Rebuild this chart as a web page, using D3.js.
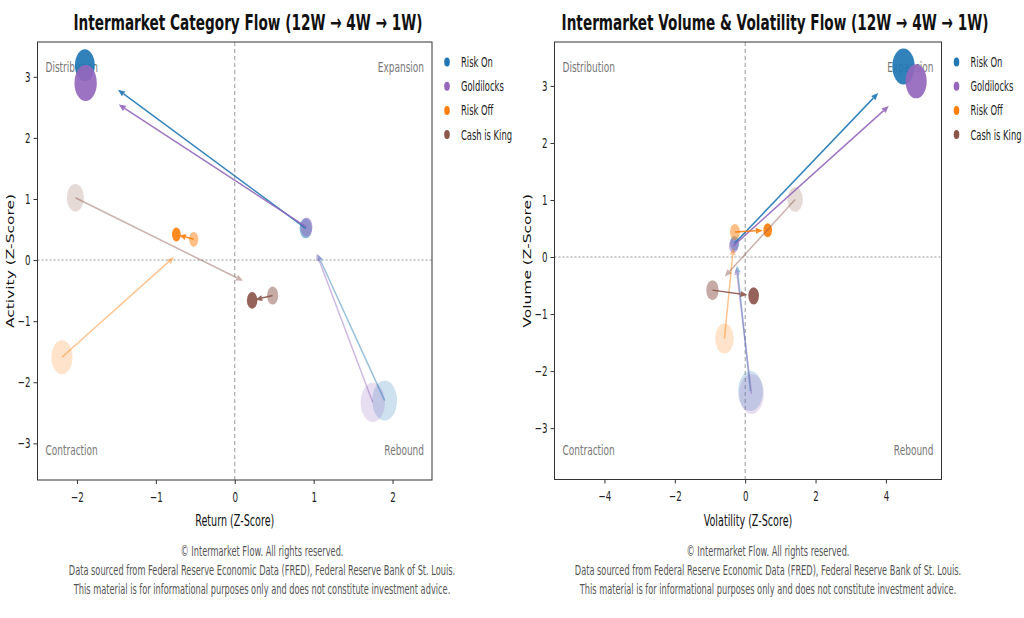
<!DOCTYPE html>
<html>
<head>
<meta charset="utf-8">
<script src="https://cdn.jsdelivr.net/npm/d3@7"></script>
<style>
  body { margin: 0; background: #fff; }
  svg { display: block; font-family: "DejaVu Sans", sans-serif; }
</style>
</head>
<body>
<svg id="chart" width="1024" height="618"></svg>
<script>
// categories and periods (12W -> 4W -> 1W)
var categories = ["Risk On", "Goldilocks", "Risk Off", "Cash is King"];
var periods = ["12W", "4W", "1W"];
var colors = ["#1f77b4", "#9467bd", "#ff7f0e", "#8c564b"];

// left chart: return vs activity, one row per category, one value per period
var catReturn   = [[1.90, 0.90, -1.90], [1.75, 0.91, -1.89], [-2.19, -0.52, -0.74], [-2.02, 0.48, 0.22]];
var catActivity = [[-2.30, 0.52, 3.19], [-2.33, 0.54, 2.90], [-1.59, 0.34, 0.42], [1.02, -0.58, -0.66]];
var catWeight   = [[1.00, 0.50, 0.80], [0.98, 0.48, 0.90], [0.85, 0.37, 0.35], [0.69, 0.45, 0.42]];

// right chart: volatility vs volume
var volVolatility = [[0.15, -0.30, 4.50], [0.18, -0.33, 4.86], [-0.59, -0.29, 0.64], [1.42, -0.93, 0.24]];
var volVolume     = [[-2.35, 0.24, 3.34], [-2.40, 0.20, 3.08], [-1.43, 0.44, 0.47], [1.01, -0.58, -0.68]];
var volWeight     = [[1.00, 0.37, 0.90], [1.00, 0.37, 0.85], [0.75, 0.40, 0.35], [0.62, 0.50, 0.43]];

var catXTicks = [-2, -1, 0, 1, 2];
var volXTicks = [-4, -2, 0, 2, 4];
var yTicks = [-3, -2, -1, 0, 1, 2, 3];

var quadrants = ["Distribution", "Expansion", "Contraction", "Rebound"];
var footerLines = [
	"\u00a9 Intermarket Flow. All rights reserved.",
	"Data sourced from Federal Reserve Economic Data (FRED), Federal Reserve Bank of St. Louis.",
	"This material is for informational purposes only and does not constitute investment advice."
];

// the picture is squashed sideways, so text and markers are too
var SX = 0.62;
var pointAlpha = [0.22, 0.5, 0.92];
var arrowAlpha = [0.45, 0.9];

var svg = d3.select("#chart");

function squashText(parent, x, y, str, size, anchor, rotate) {
	var t = "translate(" + x + "," + y + ") scale(" + SX + ",1)" + (rotate ? " rotate(-90)" : "");
	return parent.append("text")
		.attr("transform", t)
		.attr("text-anchor", anchor || "start")
		.attr("font-size", size + "px")
		.text(str);
}

function drawPanel(p) {
	var g = svg.append("g");

	var x = d3.scaleLinear().domain(p.xDom).range([p.left, p.right]);
	var y = d3.scaleLinear().domain(p.yDom).range([p.bottom, p.top]);
	var r = d3.scaleLinear().domain([0, 1]).range([0, 20]);

	// zero lines
	g.append("line")
		.attr("x1", x(0)).attr("x2", x(0))
		.attr("y1", p.top).attr("y2", p.bottom)
		.attr("stroke", "#999").attr("stroke-width", 1)
		.attr("stroke-dasharray", "4,3");
	g.append("line")
		.attr("x1", p.left).attr("x2", p.right)
		.attr("y1", y(0)).attr("y2", y(0))
		.attr("stroke", "#999").attr("stroke-width", 1)
		.attr("stroke-dasharray", "2,2");

	// quadrant names
	var qg = g.append("g").attr("fill", "#777");
	squashText(qg, p.left + 8, p.top + 30, quadrants[0], 14.5, "start");
	squashText(qg, p.right - 8, p.top + 30, quadrants[1], 14.5, "end");
	squashText(qg, p.left + 8, p.bottom - 25, quadrants[2], 14.5, "start");
	squashText(qg, p.right - 8, p.bottom - 25, quadrants[3], 14.5, "end");

	// points for every period
	categories.forEach(function(c, ci) {
		periods.forEach(function(pd, pi) {
			var ry = r(p.w[ci][pi]);
			g.append("ellipse")
				.attr("cx", x(p.xs[ci][pi]))
				.attr("cy", y(p.ys[ci][pi]))
				.attr("rx", ry * SX)
				.attr("ry", ry)
				.attr("fill", colors[ci])
				.attr("fill-opacity", pointAlpha[pi]);
		});
	});

	// arrows 12W -> 4W -> 1W, stopping short of the target
	categories.forEach(function(c, ci) {
		for (var k = 0; k < 2; k++) {
			var x1 = x(p.xs[ci][k]), y1 = y(p.ys[ci][k]);
			var x2 = x(p.xs[ci][k + 1]), y2 = y(p.ys[ci][k + 1]);
			var ex = x1 + 0.85 * (x2 - x1), ey = y1 + 0.85 * (y2 - y1);
			var ang = Math.atan2(ey - y1, ex - x1);
			var hl = 7, hw = 3;
			var bx = ex - hl * Math.cos(ang), by = ey - hl * Math.sin(ang);
			var ag = g.append("g").attr("opacity", arrowAlpha[k]);
			ag.append("line")
				.attr("x1", x1).attr("y1", y1)
				.attr("x2", bx).attr("y2", by)
				.attr("stroke", colors[ci])
				.attr("stroke-width", 1.5);
			ag.append("path")
				.attr("d", "M" + ex + "," + ey +
					"L" + (bx + hw * Math.sin(ang)) + "," + (by - hw * Math.cos(ang)) +
					"L" + (bx - hw * Math.sin(ang)) + "," + (by + hw * Math.cos(ang)) + "Z")
				.attr("fill", colors[ci]);
		}
	});

	// frame
	g.append("rect")
		.attr("x", p.left).attr("y", p.top)
		.attr("width", p.right - p.left).attr("height", p.bottom - p.top)
		.attr("fill", "none").attr("stroke", "#333").attr("stroke-width", 1);

	// axes
	var fmt = d3.format("d");
	var ax = g.append("g")
		.attr("transform", "translate(0," + p.bottom + ")")
		.call(d3.axisBottom(x).tickValues(p.xTicks).tickFormat(fmt).tickSize(4).tickPadding(8));
	var ay = g.append("g")
		.attr("transform", "translate(" + p.left + ",0)")
		.call(d3.axisLeft(y).tickValues(p.yTicks).tickFormat(fmt).tickSize(4).tickPadding(5));
	[ax, ay].forEach(function(a) {
		a.select(".domain").remove();
		a.selectAll("line").attr("stroke", "#333");
		a.selectAll("text")
			.attr("font-family", "DejaVu Sans")
			.attr("font-size", "14px")
			.attr("fill", "#222");
	});
	ax.selectAll("text").attr("transform", "scale(" + SX + ",1)");
	ay.selectAll("text").attr("x", -7 / SX).attr("transform", "scale(" + SX + ",1)");

	// axis labels and title
	squashText(g, (p.left + p.right) / 2, 526, p.xLabel, 15.5, "middle").attr("fill", "#111");
	squashText(g, p.yLabelX, (p.top + p.bottom) / 2, p.yLabel, 15.5, "middle", true).attr("fill", "#111");
	squashText(g, p.titleX, 30, p.title, 22, "middle")
		.attr("font-weight", "bold").attr("fill", "#111");

	// legend
	var lg = g.append("g");
	categories.forEach(function(c, ci) {
		var ly = 62 + ci * 24.2;
		lg.append("ellipse")
			.attr("cx", p.right + 15).attr("cy", ly)
			.attr("rx", 4.5 * SX).attr("ry", 4.5)
			.attr("fill", colors[ci]);
		squashText(lg, p.right + 29, ly + 5, c, 13.5, "start").attr("fill", "#222");
	});

	// footer
	var fg = g.append("g").attr("fill", "#555");
	footerLines.forEach(function(line, li) {
		squashText(fg, p.footX, 556 + li * 19, line, 13.3, "middle");
	});
}

drawPanel({
	left: 37.5, right: 432, top: 42, bottom: 480,
	xDom: [-2.5, 2.5], yDom: [-3.6, 3.57],
	xTicks: catXTicks, yTicks: yTicks,
	xs: catReturn, ys: catActivity, w: catWeight,
	xLabel: "Return (Z-Score)", yLabel: "Activity (Z-Score)", yLabelX: 14,
	title: "Intermarket Category Flow (12W \u2192 4W \u2192 1W)", titleX: 248,
	footX: 262
});

drawPanel({
	left: 554.5, right: 941.5, top: 42, bottom: 479.5,
	xDom: [-5.42, 5.58], yDom: [-3.9, 3.77],
	xTicks: volXTicks, yTicks: yTicks,
	xs: volVolatility, ys: volVolume, w: volWeight,
	xLabel: "Volatility (Z-Score)", yLabel: "Volume (Z-Score)", yLabelX: 531,
	title: "Intermarket Volume & Volatility Flow (12W \u2192 4W \u2192 1W)", titleX: 775,
	footX: 768
});
</script>
</body>
</html>
